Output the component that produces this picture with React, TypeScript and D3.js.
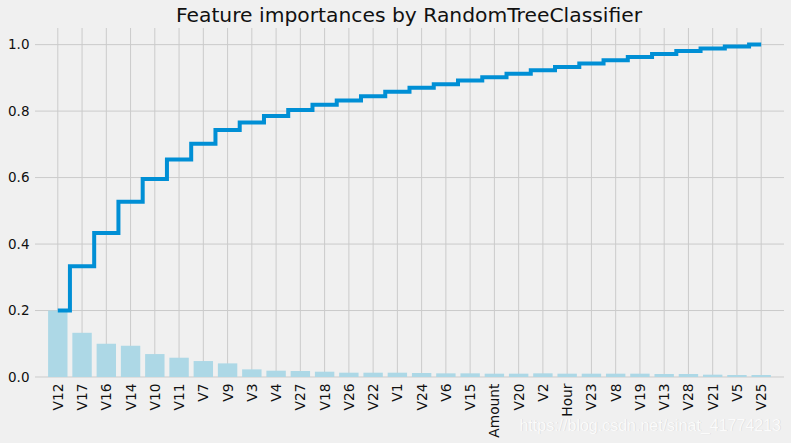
import React, { useEffect, useRef } from "react";
import * as d3 from "d3";

const features = [
  "V12", "V17", "V16", "V14", "V10", "V11", "V7", "V9", "V3", "V4",
  "V27", "V18", "V26", "V22", "V1", "V24", "V6", "V15", "Amount", "V20",
  "V2", "Hour", "V23", "V8", "V19", "V13", "V28", "V21", "V5", "V25",
];

const importances = [
  0.2, 0.133, 0.1, 0.094, 0.069, 0.058, 0.048, 0.041, 0.023, 0.019,
  0.018, 0.016, 0.013, 0.013, 0.013, 0.012, 0.011, 0.011, 0.01, 0.01,
  0.011, 0.01, 0.01, 0.01, 0.01, 0.009, 0.009, 0.007, 0.006, 0.006,
];

const yTicks = [0, 0.2, 0.4, 0.6, 0.8, 1.0];

const W = 791;
const H = 443;

const App: React.FC = () => {
  const svgRef = useRef<SVGSVGElement>(null);

  useEffect(() => {
    if (!svgRef.current) return;
    const svg = d3.select(svgRef.current);
    svg.selectAll("*").remove();

    const font = "'DejaVu Sans', sans-serif";
    const left = 35;
    const right = 784;
    const top = 28;
    const bottom = 377;

    // category index -> pixel (linear, like matplotlib's bar positions)
    const x = d3.scaleLinear().domain([-0.94, 29.94]).range([left, right]);
    const y = d3.scaleLinear().domain([0, 1.05]).range([bottom, top]);

    const cumulative = Array.from(d3.cumsum(importances));

    svg.append("rect").attr("width", W).attr("height", H).attr("fill", "#f0f0f0");

    // GRID
    const grid = svg.append("g").attr("stroke", "#cbcbcb").attr("stroke-width", 1);
    features.forEach((_, i) => {
      grid.append("line")
        .attr("x1", x(i)).attr("x2", x(i))
        .attr("y1", top).attr("y2", bottom);
    });
    yTicks.forEach(t => {
      grid.append("line")
        .attr("x1", left).attr("x2", right)
        .attr("y1", y(t)).attr("y2", y(t));
    });

    // BARS
    svg.append("g")
      .selectAll("rect")
      .data(importances)
      .enter()
      .append("rect")
      .attr("x", (_, i) => x(i - 0.4))
      .attr("width", x(0.4) - x(-0.4))
      .attr("y", d => y(d))
      .attr("height", d => y(0) - y(d))
      .attr("fill", "#add8e6");

    // CUMULATIVE STEP
    const line = d3.line<number>()
      .x((_, i) => x(i))
      .y(d => y(d))
      .curve(d3.curveStep);

    svg.append("path")
      .attr("d", line(cumulative))
      .attr("fill", "none")
      .attr("stroke", "#008fd5")
      .attr("stroke-width", 4)
      .attr("stroke-linejoin", "miter");

    // Y TICK LABELS
    svg.append("g")
      .selectAll("text")
      .data(yTicks)
      .enter()
      .append("text")
      .attr("x", 29.5)
      .attr("y", d => y(d))
      .attr("dy", "0.36em")
      .attr("text-anchor", "end")
      .style("font-family", font)
      .style("font-size", "13.5px")
      .attr("fill", "#111")
      .text(d => d.toFixed(1));

    // X TICK LABELS
    svg.append("g")
      .selectAll("text")
      .data(features)
      .enter()
      .append("text")
      .attr("transform", (_, i) => `translate(${x(i)},383.5) rotate(-90)`)
      .attr("dy", "0.36em")
      .attr("text-anchor", "end")
      .style("font-family", font)
      .style("font-size", "13.8px")
      .attr("fill", "#111")
      .text(d => d);

    // TITLE
    svg.append("text")
      .attr("x", 409)
      .attr("y", 22)
      .attr("text-anchor", "middle")
      .style("font-family", font)
      .style("font-size", "20.3px")
      .attr("fill", "#111")
      .text("Feature importances by RandomTreeClassifier");

    // WATERMARK
    const wm = "https://blog.csdn.net/sinat_41774213";
    svg.append("text")
      .attr("x", 781.5)
      .attr("y", 431)
      .attr("text-anchor", "end")
      .style("font-family", "Arial, 'Liberation Sans', sans-serif")
      .style("font-size", "16px")
      .attr("fill", "#d4d4d4")
      .text(wm);
    svg.append("text")
      .attr("x", 781)
      .attr("y", 430.5)
      .attr("text-anchor", "end")
      .style("font-family", "Arial, 'Liberation Sans', sans-serif")
      .style("font-size", "16px")
      .attr("fill", "#fbfbfb")
      .text(wm);
  }, []);

  return (
    <svg
      ref={svgRef}
      width={W}
      height={H}
      style={{ position: "absolute", left: 0, top: 0 }}
    />
  );
};

export default App;
